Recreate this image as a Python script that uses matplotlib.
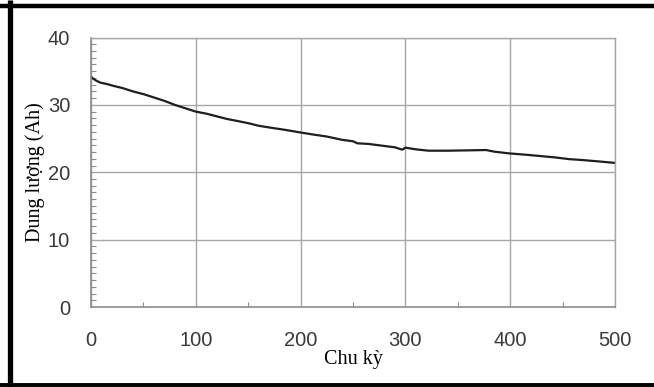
#!/usr/bin/env python3
"""Capacity fade over cycling (Dung lượng vs Chu kỳ)."""

import matplotlib
matplotlib.use('Agg')
import matplotlib.pyplot as plt
from matplotlib.ticker import MultipleLocator
from matplotlib.lines import Line2D

# Values
cycles = [0, 2, 5, 9, 15, 22, 30, 40, 50, 60, 70, 80, 90, 100,
          110, 120, 130, 140, 151, 160, 172, 185, 200, 212, 225,
          240, 250, 254, 265, 280, 290, 297, 300, 310, 322, 340,
          360, 377, 385, 399, 415, 429, 443, 456, 470, 485, 499]
capacity = [34.2, 33.9, 33.6, 33.3, 33.1, 32.8, 32.5, 32.0, 31.6, 31.1,
            30.6, 30.0, 29.5, 29.0, 28.7, 28.3, 27.9, 27.6, 27.25, 26.9,
            26.6, 26.3, 25.9, 25.6, 25.3, 24.8, 24.6, 24.3, 24.2, 23.9,
            23.7, 23.35, 23.65, 23.4, 23.2, 23.2, 23.25, 23.3, 23.05, 22.8,
            22.6, 22.4, 22.2, 21.95, 21.8, 21.6, 21.4]

x_ticks = [0, 100, 200, 300, 400, 500]
y_ticks = [0, 10, 20, 30, 40]

GRID = '#a6a6a6'
TICK_TXT = '#3a3a3a'

fig = plt.figure(figsize=(6.54, 3.87), dpi=100)
ax = fig.add_axes([0.1391, 0.2067, 0.8013, 0.6964])

ax.plot(cycles, capacity, color='#1e1e1e', linewidth=1.6)

ax.set_xlim(0, 500)
ax.set_ylim(0, 40)
ax.set_xticks(x_ticks)
ax.set_yticks(y_ticks)
ax.xaxis.set_minor_locator(MultipleLocator(50))
ax.yaxis.set_minor_locator(MultipleLocator(1))
ax.grid(True, which='major', color=GRID, linewidth=1.0)
ax.set_axisbelow(True)

ax.tick_params(which='major', length=0, pad=15, labelsize=14.5, labelcolor=TICK_TXT)
ax.tick_params(axis='x', which='major', pad=17)
ax.tick_params(which='minor', direction='in', length=3.5, color='#8c8c8c', width=0.8)
for lab in ax.get_xticklabels() + ax.get_yticklabels():
    lab.set_fontfamily('Liberation Sans')

for side in ['left', 'bottom']:
    ax.spines[side].set_color('#8c8c8c')
    ax.spines[side].set_linewidth(1.2)
for side in ['top', 'right']:
    ax.spines[side].set_color(GRID)
    ax.spines[side].set_linewidth(1.0)

ax.set_xlabel('Chu kỳ', fontfamily='Liberation Serif', fontsize=14.5, labelpad=0)
ax.set_ylabel('Dung lượng (Ah)', fontfamily='Liberation Serif', fontsize=14.5, labelpad=2)

# black frame round the picture (left, top, bottom)
W, H = 654.0, 387.0
frame = dict(color='black', transform=fig.transFigure, solid_capstyle='butt')
fig.add_artist(Line2D([9.5 / W, 9.5 / W], [0, 1], linewidth=3.8, **frame))
fig.add_artist(Line2D([0, 1], [1 - 5.5 / H, 1 - 5.5 / H], linewidth=3.2, **frame))
fig.add_artist(Line2D([0, 1], [2 / H, 2 / H], linewidth=2.8, **frame))

fig.savefig('out.png', dpi=100)
